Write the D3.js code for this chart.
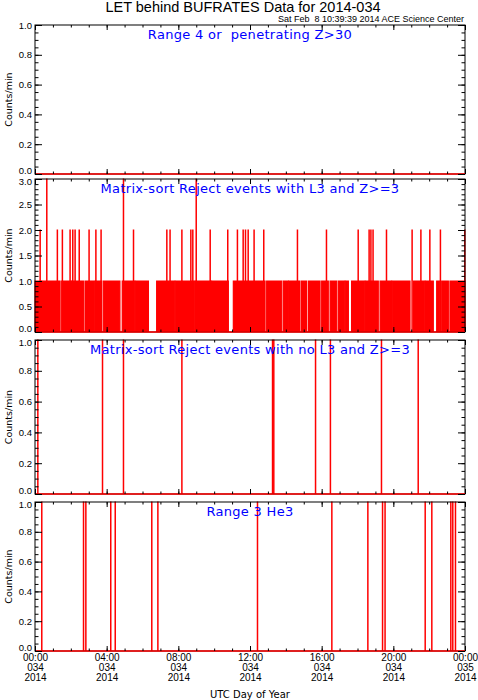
<!DOCTYPE html>
<html>
<head>
<meta charset="utf-8">
<script src="https://cdn.jsdelivr.net/npm/d3@7"></script>
<style>
  body { margin: 0; background: #fff; }
  svg { display: block; font-family: 'DejaVu Sans', sans-serif; }
  .tick line { stroke: #000; }
  text { white-space: pre; }
</style>
</head>
<body>
<div id="chart"></div>
<script>
// ---- data (hours of UTC day 2014-034) ----
const chartTitle = 'LET behind BUFRATES Data for 2014-034';
const stampText = 'Sat Feb  8 10:39:39 2014 ACE Science Center';
const xTitle = 'UTC Day of Year';
const yTitle = 'Counts/min';

const hourTicks = [0, 4, 8, 12, 16, 20, 24];
const hourLabels = ['00:00', '04:00', '08:00', '12:00', '16:00', '20:00', '00:00'];
const dayLabels = ['034', '034', '034', '034', '034', '034', '035'];
const yearLabels = ['2014', '2014', '2014', '2014', '2014', '2014', '2014'];

const panelTitles = [
  'Range 4 or  penetrating Z>30',
  'Matrix-sort Reject events with L3 and Z>=3',
  'Matrix-sort Reject events with no L3 and Z>=3',
  'Range 3 He3'
];
const panelMax = [1, 3, 1, 1];
const panelMajor = [0.2, 0.5, 0.2, 0.2];
const panelMinor = [0.05, 0.1, 0.05, 0.05];

// panel 1: no counts all day
const p1Ones = [];

// panel 2: busy at 1 count/min except these quiet (zero) runs [start, end]
const p2ZeroRuns = [
  [0.36, 0.39], [1.40, 1.49], [2.04, 2.07], [2.70, 2.79], [3.34, 3.37],
  [3.72, 3.81], [4.74, 4.87], [5.57, 5.60], [6.33, 6.79], [7.80, 7.83],
  [8.92, 8.95], [9.85, 9.88], [10.79, 11.07], [11.90, 11.93], [12.84, 12.93],
  [13.77, 13.86], [14.13, 14.16], [14.79, 14.88], [15.16, 15.26], [15.91, 16.00],
  [16.37, 16.47], [16.84, 16.93], [17.29, 17.32], [17.49, 17.67], [18.41, 18.44],
  [19.16, 19.26], [19.90, 19.93], [20.93, 21.12], [21.76, 21.79], [22.23, 22.42],
  [22.60, 22.70], [23.07, 23.16]
];
const p2Twos = [
  0.28, 1.24, 1.52, 1.95, 2.10, 2.23, 2.46, 3.01, 3.39, 3.68, 5.49, 7.35,
  7.53, 8.19, 8.69, 8.80, 9.77, 10.75, 11.29, 11.61, 11.74, 11.89, 12.22,
  12.76, 14.64, 16.26, 18.03, 18.64, 18.74, 18.86, 19.61, 21.04, 21.53,
  22.03, 22.62, 23.98
];
const p2Threes = [0.65, 4.93, 8.99];

// panel 3 and 4: single 1-count minutes
const p3Ones = [0.15, 3.76, 4.93, 8.19, 13.25, 13.32, 15.65, 16.48, 19.33, 21.38];
const p4Ones = [
  0.37, 2.70, 2.83, 4.22, 4.47, 6.51, 6.85, 12.41, 16.56, 18.57, 19.39,
  19.53, 21.77, 22.14, 23.20, 23.31, 23.46
];

// ---- layout ----
const W = 478, H = 700;
const left = 35, right = 465;
const panelTops = [25, 179, 340, 502];
const panelBottoms = [174, 332, 494, 651];
const binWidth = 1 / 60;
const red = '#ff0000';

const svg = d3.select('#chart').append('svg')
  .attr('width', W)
  .attr('height', H);

const xScale = d3.scaleLinear().domain([0, 24]).range([left, right]);
const minorHours = d3.range(0, 25, 1);

svg.append('text')
  .attr('x', W / 2 + 4)
  .attr('y', 12)
  .attr('text-anchor', 'middle')
  .style('font-family', "'Liberation Sans', Arial, sans-serif")
  .style('font-size', '14.5px')
  .text(chartTitle);

svg.append('text')
  .attr('x', right - 1)
  .attr('y', 22)
  .attr('text-anchor', 'end')
  .style('font-family', "'Liberation Sans', Arial, sans-serif")
  .style('font-size', '9px')
  .text(stampText);

// step path for 1-minute bins
function spikes(times, value) {
  return times.map(t => [
    { t: t, v: 0 }, { t: t, v: value }, { t: t + binWidth, v: value }, { t: t + binWidth, v: 0 }
  ]);
}

panelTitles.forEach((title, i) => {
  const top = panelTops[i], bottom = panelBottoms[i];
  const yScale = d3.scaleLinear().domain([0, panelMax[i]]).range([bottom, top]);
  const majors = d3.range(0, panelMax[i] + 1e-6, panelMajor[i]);
  const minors = d3.range(0, panelMax[i] + 1e-6, panelMinor[i]);

  const $g = svg.append('g');

  const line = d3.line()
    .x(d => xScale(d.t))
    .y(d => yScale(d.v));

  // data
  const $data = $g.append('g');

  if (i === 1) {
    // busy stretches = day minus quiet runs
    const busy = [];
    let start = 0;
    p2ZeroRuns.forEach(([a, b]) => {
      busy.push([start, a]);
      start = b;
    });
    busy.push([start, 24]);

    const area = d3.area()
      .x(d => xScale(d.t))
      .y0(yScale(0))
      .y1(d => yScale(d.v));

    busy.forEach(([a, b]) => {
      $data.append('path')
        .attr('d', area([{ t: a, v: 1 }, { t: b, v: 1 }]))
        .attr('fill', red);
      $data.append('path')
        .attr('d', line([{ t: a, v: 0 }, { t: a, v: 1 }, { t: b, v: 1 }, { t: b, v: 0 }]))
        .attr('fill', 'none')
        .attr('stroke', red)
        .attr('stroke-width', 1.2);
    });

    spikes(p2Twos, 2).concat(spikes(p2Threes, 3)).forEach(s => {
      $data.append('path')
        .attr('d', line(s))
        .attr('fill', 'none')
        .attr('stroke', red)
        .attr('stroke-width', 1.2);
    });
  } else {
    const ones = [p1Ones, null, p3Ones, p4Ones][i];
    spikes(ones, 1).forEach(s => {
      $data.append('path')
        .attr('d', line(s))
        .attr('fill', 'none')
        .attr('stroke', red)
        .attr('stroke-width', 1.2);
    });
  }

  // frame
  $g.append('rect')
    .attr('x', left)
    .attr('y', top)
    .attr('width', right - left)
    .attr('height', bottom - top)
    .attr('fill', 'none')
    .attr('stroke', '#000')
    .attr('stroke-width', 1);

  // zero baseline
  $g.append('path')
    .attr('d', line([{ t: 0, v: 0 }, { t: 24, v: 0 }]))
    .attr('stroke', red)
    .attr('stroke-width', 1.4);

  // y axes
  const $yLeft = $g.append('g')
    .attr('transform', `translate(${left},0)`)
    .call(d3.axisLeft(yScale).tickValues(majors).tickSize(-7).tickPadding(3).tickFormat(d3.format('.1f')));
  $yLeft.selectAll('text')
    .style('font-size', '9.5px')
    .attr('fill', '#000')
    .attr('dy', d => {
      // nudge the end labels apart where panels meet
      if (d === 0) return '0.1em';
      if (Math.abs(d - panelMax[i]) < 1e-6 && i > 0) return '0.6em';
      return '0.32em';
    })
    .attr('transform', d => d === 0 ? 'translate(0,-1)' : null);

  $g.append('g')
    .attr('transform', `translate(${left},0)`)
    .call(d3.axisLeft(yScale).tickValues(minors).tickSize(-3.5).tickFormat(''));

  $g.append('g')
    .attr('transform', `translate(${right},0)`)
    .call(d3.axisRight(yScale).tickValues(majors).tickSize(-7).tickFormat(''));

  $g.append('g')
    .attr('transform', `translate(${right},0)`)
    .call(d3.axisRight(yScale).tickValues(minors).tickSize(-3.5).tickFormat(''));

  // x ticks top and bottom
  $g.append('g')
    .attr('transform', `translate(0,${top})`)
    .call(d3.axisTop(xScale).tickValues(hourTicks).tickSize(-5).tickFormat(''));
  $g.append('g')
    .attr('transform', `translate(0,${top})`)
    .call(d3.axisTop(xScale).tickValues(minorHours).tickSize(-2.5).tickFormat(''));

  const $xBottom = $g.append('g')
    .attr('transform', `translate(0,${bottom})`)
    .call(d3.axisBottom(xScale).tickValues(hourTicks).tickSize(-5).tickPadding(3)
      .tickFormat(i === 3 ? (d, k) => hourLabels[k] : ''));
  $g.append('g')
    .attr('transform', `translate(0,${bottom})`)
    .call(d3.axisBottom(xScale).tickValues(minorHours).tickSize(-2.5).tickFormat(''));

  if (i === 3) {
    $xBottom.selectAll('text')
      .style('font-size', '10px')
      .attr('fill', '#000')
      .each(function(d, k) {
        const $t = d3.select(this);
        $t.append('tspan').attr('x', 0).attr('dy', '10').text(dayLabels[k]);
        $t.append('tspan').attr('x', 0).attr('dy', '10').text(yearLabels[k]);
      });
  }

  $g.selectAll('.domain').remove();
  $g.selectAll('.tick line').attr('stroke-width', 1);

  // panel title
  $g.append('text')
    .attr('x', (left + right) / 2)
    .attr('y', top + 14)
    .attr('text-anchor', 'middle')
    .attr('fill', '#0000ff')
    .style('font-size', '13px')
    .style('letter-spacing', '0.3px')
    .text(title);

  // y title
  $g.append('text')
    .attr('transform', `translate(12,${(top + bottom) / 2}) rotate(-90)`)
    .attr('text-anchor', 'middle')
    .style('font-size', '9.5px')
    .text(yTitle);
});

svg.append('text')
  .attr('x', (left + right) / 2)
  .attr('y', 698)
  .attr('text-anchor', 'middle')
  .style('font-size', '10px')
  .text(xTitle);
</script>
</body>
</html>
